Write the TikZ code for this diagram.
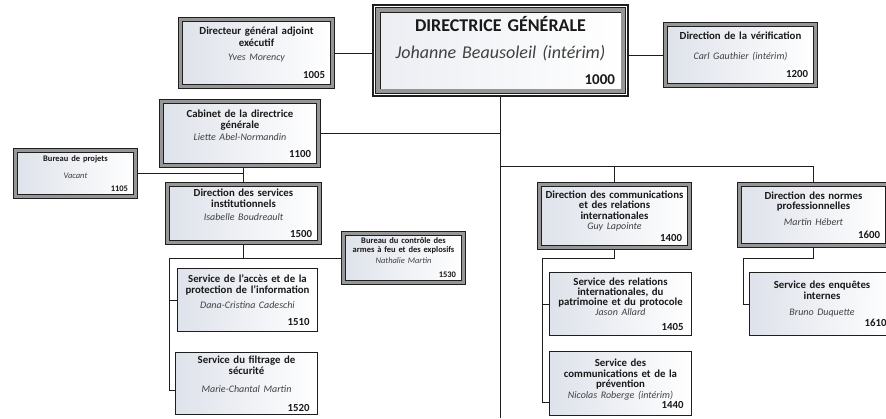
\documentclass[tikz,border=0pt]{standalone}
\usepackage{fontspec}
\setmainfont{Carlito}
\usetikzlibrary{backgrounds}
\setlength{\parindent}{0pt}
\definecolor{frameblack}{RGB}{30,30,30}
\definecolor{bandgray}{RGB}{150,150,150}
\definecolor{fillL}{RGB}{222,226,234}
\definecolor{titlecol}{RGB}{25,25,25}
\definecolor{namecol}{RGB}{65,65,65}
\newcommand\nm[1]{{\mdseries\itshape\color{namecol}\fontsize{10}{11}\selectfont #1}}
\newcommand\snm[1]{{\mdseries\itshape\color{namecol}#1}}
\newcommand\nbr[1]{\hspace*{\fill}{\bfseries\color{titlecol}#1}\kern3.5pt}
\begin{document}
\begin{tikzpicture}[x=1pt,y=-1pt,
  bevel/.style={draw=frameblack, line width=0.9pt, double=bandgray, double distance=3pt,
    left color=fillL, right color=white, inner sep=0pt, align=center, text=titlecol,
    font=\fontsize{10.8}{11}\selectfont\bfseries},
  plainbox/.style={draw=frameblack, line width=1.1pt,
    left color=fillL, right color=white, inner sep=0pt, align=center, text=titlecol,
    font=\fontsize{10.8}{11}\selectfont\bfseries},
  smallfont/.style={font=\fontsize{8.5}{9}\selectfont\bfseries},
  mainbox/.style={draw=frameblack, line width=0.9pt, double=bandgray, double distance=3.5pt,
    left color=fillL!60, right color=white, inner sep=0pt, align=center, text=titlecol,
    font=\fontsize{18}{18}\selectfont\bfseries},
  mainouter/.style={draw=frameblack, line width=2pt, fill=white},
  conn/.style={draw=frameblack, line width=1pt}]
\useasboundingbox (0,0) rectangle (886,418);
\clip (0,0) rectangle (886,418);

% main box
\node[mainbox, minimum width=245.3pt, minimum height=81.3pt, text width=229pt] (b1000) at (500.5,50.5)
  {DIRECTRICE GÉNÉRALE\\[9pt]{\mdseries\itshape\color{namecol}Johanne Beausoleil (intérim)}\\[8pt]\hspace*{\fill}{\fontsize{15}{15}\selectfont 1000}};

\node[bevel, minimum width=152.2pt, minimum height=67.2pt, text width=144pt] (b1005) at (256.5,53)
  {Directeur général adjoint\\[1pt]exécutif\\[3pt]\nm{Yves Morency}\\[7pt]\nbr{1005}};
\node[bevel, minimum width=150.2pt, minimum height=61.2pt, text width=142pt] (b1200) at (740.5,55)
  {Direction de la vérification\\[9pt]\nm{Carl Gauthier (intérim)}\\[7pt]\nbr{1200}};
\node[bevel, minimum width=157.2pt, minimum height=64.2pt, text width=149pt] (b1100) at (240,133.5)
  {Cabinet de la directrice\\générale\\[1pt]\nm{Liette Abel-Normandin}\\[6pt]\nbr{1100}};
\node[bevel, smallfont, minimum width=120.2pt, minimum height=46.2pt, text width=112pt] (b1105) at (75.5,173.5)
  {Bureau de projets\\[8pt]\snm{Vacant}\\[4pt]\nbr{1105}};
\node[bevel, minimum width=152.2pt, minimum height=58.2pt, text width=144pt] (b1500) at (243.5,213.5)
  {Direction des services\\institutionnels\\[2pt]\nm{Isabelle Boudreault}\\[6pt]\nbr{1500}};
\node[bevel, smallfont, minimum width=120.2pt, minimum height=49.2pt, text width=112pt] (b1530) at (403.5,258)
  {Bureau du contrôle des\\armes à feu et des explosifs\\[2pt]\snm{Nathalie Martin}\\[5pt]\nbr{1530}};
\node[plainbox, minimum width=139.9pt, minimum height=62.9pt, text width=131pt] (b1510) at (247.5,300)
  {Service de l’accès et de la\\protection de l’information\\[4pt]\nm{Dana-Cristina Cadeschi}\\[6pt]\nbr{1510}};
\node[plainbox, minimum width=141.9pt, minimum height=61.9pt, text width=133pt] (b1520) at (246.5,383.5)
  {Service du filtrage de\\sécurité\\[7pt]\nm{Marie-Chantal Martin}\\[8pt]\nbr{1520}};
\node[bevel, minimum width=150.2pt, minimum height=63.2pt, text width=142pt] (b1400) at (614.5,216)
  {Direction des communications\\[-0.5pt]et des relations\\[-0.5pt]internationales\\[-0.5pt]\nm{Guy Lapointe}\\[0.5pt]\nbr{1400}};
\node[plainbox, minimum width=141.9pt, minimum height=62.9pt, text width=133pt] (b1405) at (620.5,304)
  {Service des relations\\[-1pt]internationales, du\\[-1pt]patrimoine et du protocole\\[-1pt]\nm{Jason Allard}\\[4pt]\nbr{1405}};
\node[plainbox, minimum width=141.9pt, minimum height=63.9pt, text width=133pt] (b1440) at (620.5,383.5)
  {Service des\\[0pt]communications et de la\\[-0.5pt]prévention\\[-0.5pt]\nm{Nicolas Roberge (intérim)}\\[-0.5pt]\nbr{1440}};
\node[bevel, minimum width=148.2pt, minimum height=61.2pt, text width=140pt] (b1600) at (813.5,215)
  {Direction des normes\\[-0.5pt]professionnelles\\[5pt]\nm{Martin Hébert}\\[2pt]\nbr{1600}};
\node[plainbox, minimum width=144.9pt, minimum height=62.9pt, text width=136pt] (b1610) at (822,304)
  {Service des enquêtes\\[-0.5pt]internes\\[5.5pt]\nm{Bruno Duquette}\\[0pt]\nbr{1610}};

\coordinate (busR) at (500.5,166);
\coordinate (s15) at (169,258);
\coordinate (s15b) at (169,390);
\coordinate (s14) at (542,258);
\coordinate (s14b) at (542,402);
\coordinate (s16) at (743,258);
\coordinate (bot) at (500.5,418);

\begin{scope}[on background layer]
\draw[conn] (b1005.east) -- (b1005.east -| b1000.west);
\draw[conn] (b1200.west) -- (b1200.west -| b1000.east);
\draw[conn] (b1000.south) -- (bot);
\draw[conn] (b1100.east) -- (b1100.east -| b1000.south);
\draw[conn] (busR) -| (b1600.north);
\draw[conn] (busR -| b1400.north) -- (b1400.north);
\draw[conn] (b1100.south -| b1500.north) -- (b1500.north);
\draw[conn] (b1105.east) -- (b1105.east -| b1500.north);
\draw[conn] (b1500.south) |- (s15);
\draw[conn] (b1500.south |- s15) -- (b1530.west);
\draw[conn] (s15) |- (b1510.west);
\draw[conn] (s15) -- (s15b) -- (s15b -| b1520.west);
\draw[conn] (b1400.south) |- (s14);
\draw[conn] (s14) |- (b1405.west);
\draw[conn] (s14) -- (s14b) -- (s14b -| b1440.west);
\draw[conn] (b1600.south) |- (s16);
\draw[conn] (s16) |- (b1610.west);
\draw[mainouter] ([shift={(-4.85pt,4.85pt)}]b1000.north west) rectangle ([shift={(4.85pt,-4.85pt)}]b1000.south east);
\end{scope}
\end{tikzpicture}
\end{document}
